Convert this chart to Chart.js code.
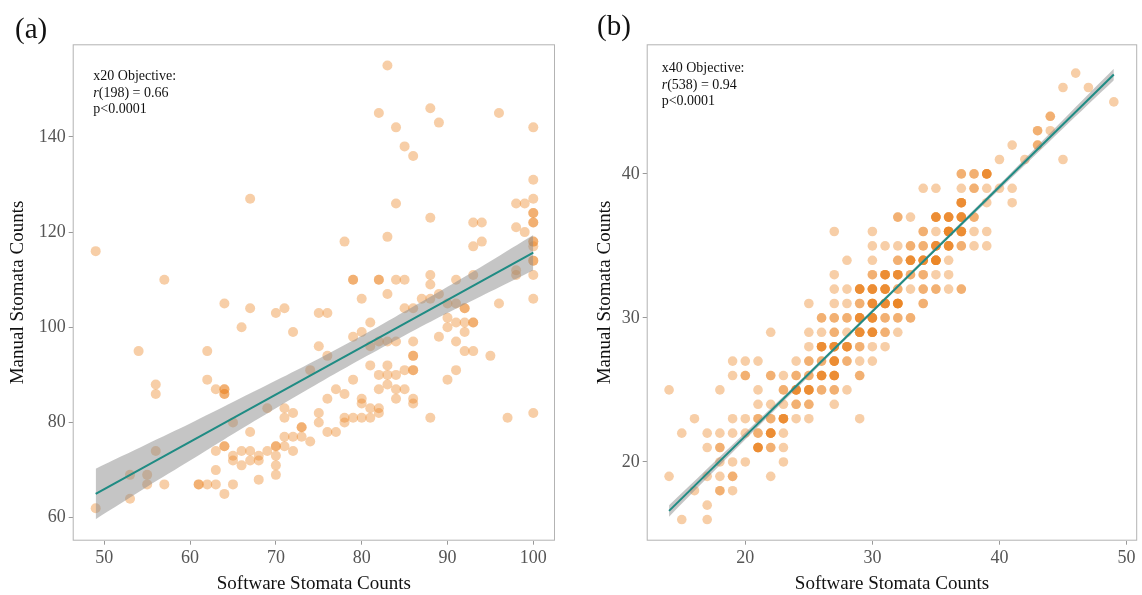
<!DOCTYPE html>
<html>
<head>
<meta charset="utf-8">
<script src="https://cdn.jsdelivr.net/npm/chart.js@4.4.0/dist/chart.umd.min.js"></script>
<style>
  html, body { margin: 0; padding: 0; background: #fff; }
  #wrap { position: relative; width: 1142px; height: 595px; overflow: hidden; }
  canvas { position: absolute; top: 0; }
  #chartA { left: 0; }
  #chartB { left: 575px; }
</style>
</head>
<body>
<div id="wrap">
  <canvas id="chartA" width="575" height="595"></canvas>
  <canvas id="chartB" width="567" height="595"></canvas>
</div>
<script>
// (a) x20 objective: [software count, manual count, how many points sit on that spot]
const x20Points = [
  [49,116],[67,127],[57,110],[64,105],
  [83,155],[82,145],[88,146],[89,143],[96,145],[100,142],[84,142],[85,138],[86,136],
  [100,131],[100,127],[98,126],[99,126],[84,126],[100,124,2],[88,123],[93,122],[94,122],
  [100,122,2],[98,121],[99,120],[78,118],[83,119],[93,117],[94,118],[100,118,2],[100,117],
  [100,114,2],[98,112],[98,111],[100,111],[79,110,2],[82,110,2],[84,110],[85,110],
  [88,111],[88,109],[91,110],[93,111],[83,107],[80,106],[100,106],
  [49,62],[53,64],[53,69],[55,69],[55,67],[56,74],[57,67],[54,95],[56,88],[56,86],
  [67,104],[70,103],[71,104],[66,100],[72,99],[62,95],[62,89],[63,87],[64,87,2],[64,86,2],
  [69,83],[65,80],[67,78],[71,83],[71,81],[72,82],[73,79,2],[71,77],[72,77],[73,77],[74,76],
  [70,75,2],[71,75],[64,75,2],[63,74],[65,73],[65,72],[66,74],[67,74],[66,71],[67,72],
  [68,73],[68,72],[69,74],[70,73],[70,71],[70,69],[72,74],[68,68],[61,67,2],[62,67],[63,67],
  [63,70],[65,67],[64,65],
  [75,103],[76,103],[81,101],[85,104],[86,104],[87,106],[88,106],[89,107],[90,105],[91,105],
  [92,104,2],[90,102],[90,100],[91,101],[92,101],[93,101,2],[92,99],[91,97],[89,98],[92,95],
  [93,95],[95,94],[96,105],[90,89],[91,91],[88,81],[97,81],[100,82],[86,94,2],[86,91,2],
  [86,97],[85,91],[84,90],[83,90],[82,90],[83,92],[81,92],[84,97],[83,97],[82,97],[81,96],
  [79,98],[80,99],[75,96],[76,94],[74,91],[79,89],[82,87],[83,88],[84,87],[85,87],[77,87],
  [78,86],[76,85],[80,85],[80,84],[81,83],[82,83],[82,82],[84,85],[86,85],[86,84],[79,81],
  [80,81],[81,81],[78,81],[78,80],[75,82],[75,80],[76,78],[77,78]
];
const x20FitX = [49, 100];
const x20FitY = [65.0, 115.7];
const x20BandX = [49, 55, 60, 65, 70, 75, 80, 85, 90, 95, 100];
const x20BandLow = [59.7, 66.5, 72.0, 77.6, 83.0, 88.3, 93.4, 98.3, 103.0, 107.5, 112.0];
const x20BandHigh = [70.3, 75.5, 79.8, 84.3, 88.8, 93.4, 98.2, 103.3, 108.5, 113.9, 119.4];
const x20TicksX = [50, 60, 70, 80, 90, 100];
const x20TicksY = [60, 80, 100, 120, 140];

// (b) x40 objective
const x40Points = [
  [46,47],[45,46],[47,46],[49,45],[44,44,2],[43,43,2],[44,43],[41,42],[43,42,2],[40,41],[42,41],[45,41],
  [37,40,2],[38,40,2],[39,40,5],
  [34,39],[35,39],[37,39],[38,39,2],[39,39],[40,39],[41,39],
  [37,38,5],[39,38],[41,38],
  [32,37,2],[33,37],[35,37,5],[36,37,5],[37,37,5],[38,37,2],
  [27,36],[30,36],[34,36,2],[35,36],[36,36,7],[37,36,5],[38,36],[39,36],
  [30,35],[31,35],[32,35],[33,35,2],[34,35,2],[35,35,5],[36,35,5],[37,35,2],[38,35],[39,35],
  [28,34],[30,34],[32,34,2],[33,34,5],[34,34,5],[35,34,7],[36,34],
  [27,33],[30,33,2],[31,33,5],[32,33,5],[33,33,2],[34,33,2],[35,33],[36,33],
  [27,32],[28,32],[29,32,5],[30,32,5],[31,32,5],[32,32,2],[33,32],[34,32,2],[35,32,2],[36,32],[37,32,2],
  [25,31],[27,31],[28,31],[29,31,2],[30,31,5],[31,31,5],[32,31,7],[34,31,2],
  [26,30,2],[27,30,2],[28,30,2],[29,30,5],[30,30,5],[31,30,2],[32,30,2],[33,30,2],
  [22,29],[25,29],[26,29],[27,29,2],[28,29],[29,29,5],[30,29,5],[31,29,2],[32,29],
  [25,28],[26,28,5],[27,28,5],[28,28,5],[29,28,2],[30,28],[31,28],
  [19,27],[20,27],[21,27],[24,27],[25,27,2],[26,27,2],[27,27,5],[28,27,2],[29,27],[30,27],
  [19,26],[20,26,2],[22,26,2],[23,26],[24,26,2],[25,26,2],[26,26,5],[27,26,5],[29,26,2],
  [14,25],[18,25],[21,25],[23,25,2],[24,25,5],[25,25,5],[26,25,2],[27,25,2],[28,25],
  [21,24],[22,24],[23,24],[24,24,2],[25,24,2],[27,24],
  [16,23],[19,23],[20,23],[21,23,2],[22,23,2],[23,23,5],[24,23],[25,23],[29,23],
  [15,22],[17,22],[18,22],[19,22],[20,22],[21,22,2],[22,22,5],[23,22],
  [17,21],[18,21,2],[21,21,5],[22,21,2],[23,21],
  [18,20],[19,20],[20,20],[23,20],
  [14,19],[17,19],[18,19],[19,19,2],[22,19],
  [16,18],[18,18,2],[19,18],
  [17,17],
  [15,16],[17,16]
];
const x40FitX = [14, 49];
const x40FitY = [16.6, 46.9];
const x40BandX = [14, 20, 25, 30, 35, 40, 45, 49];
const x40BandLow = [16.2, 21.55, 25.95, 30.34, 34.68, 38.92, 43.15, 46.5];
const x40BandHigh = [17.0, 22.05, 26.25, 30.58, 34.92, 39.28, 43.75, 47.3];
const x40TicksX = [20, 30, 40, 50];
const x40TicksY = [20, 30, 40];

const SERIF = "'Liberation Serif', 'DejaVu Serif', serif";
const DOT = 'rgba(236,133,34,0.4)';
const BAND = 'rgba(140,140,140,0.5)';
const TEAL = '#1f8c84';

function expand(points) {
  const out = [];
  points.forEach(([x, y, n = 1]) => {
    for (let i = 0; i < n; i++) out.push({ x, y });
  });
  return out;
}

function pairs(xs, ys) {
  return xs.map((x, i) => ({ x, y: ys[i] }));
}

// frame + panel letter + stats text
const decor = {
  id: 'decor',
  afterDatasetsDraw(chart, args, opts) {
    const { ctx, chartArea: a } = chart;
    ctx.save();
    ctx.strokeStyle = '#b3b3b3';
    ctx.lineWidth = 1;
    ctx.strokeRect(a.left + 0.5, a.top + 0.5, a.right - a.left - 1, a.bottom - a.top - 1);

    ctx.fillStyle = '#111';
    ctx.textBaseline = 'alphabetic';
    ctx.font = '29px ' + SERIF;
    ctx.fillText(opts.letter, opts.letterX, opts.letterY);

    ctx.font = '14px ' + SERIF;
    ctx.fillText(opts.lines[0], opts.noteX, opts.noteY);
    ctx.font = 'italic 14px ' + SERIF;
    ctx.fillText('r', opts.noteX, opts.noteY + 16.5);
    const w = ctx.measureText('r').width;
    ctx.font = '14px ' + SERIF;
    ctx.fillText(opts.lines[1], opts.noteX + w, opts.noteY + 16.5);
    ctx.fillText(opts.lines[2], opts.noteX, opts.noteY + 33);
    ctx.restore();
  }
};

function makePanel(id, p) {
  return new Chart(document.getElementById(id), {
    type: 'scatter',
    data: {
      datasets: [
        { data: pairs(p.fitX, p.fitY), showLine: true, borderColor: TEAL, borderWidth: 2,
          pointRadius: 0, order: 0 },
        { data: pairs(p.bandX, p.bandHigh), showLine: true, borderColor: 'transparent', borderWidth: 0,
          pointRadius: 0, backgroundColor: BAND, fill: 2, tension: 0.3, order: 1 },
        { data: pairs(p.bandX, p.bandLow), showLine: true, borderColor: 'transparent', borderWidth: 0,
          pointRadius: 0, fill: false, tension: 0.3, order: 1 },
        { data: expand(p.points), pointRadius: p.radius, backgroundColor: DOT, borderWidth: 0,
          order: 2 }
      ]
    },
    options: {
      responsive: false,
      animation: false,
      events: [],
      layout: { padding: { left: 0, right: p.padRight, top: 44.3, bottom: 0 } },
      plugins: {
        legend: { display: false },
        tooltip: { enabled: false },
        decor: p.decor
      },
      scales: {
        x: {
          type: 'linear', min: p.xMin, max: p.xMax,
          afterBuildTicks: s => { s.ticks = p.ticksX.map(v => ({ value: v })); },
          afterFit: s => { s.height = 54.3; },
          border: { display: false },
          grid: { drawOnChartArea: false, drawTicks: true, tickLength: 4, color: '#999' },
          ticks: { autoSkip: false, maxRotation: 0, padding: 3, color: '#555',
                   font: { family: SERIF, size: 18 } },
          title: { display: true, text: 'Software Stomata Counts', color: '#111',
                   font: { family: SERIF, size: 19 }, padding: { top: 0, bottom: 0 } }
        },
        y: {
          type: 'linear', min: p.yMin, max: p.yMax,
          afterBuildTicks: s => { s.ticks = p.ticksY.map(v => ({ value: v })); },
          afterFit: s => { s.width = p.yWidth; },
          border: { display: false },
          grid: { drawOnChartArea: false, drawTicks: true, tickLength: 4, color: '#999' },
          ticks: { autoSkip: false, padding: 3, color: '#555',
                   font: { family: SERIF, size: 18 } },
          title: { display: true, text: 'Manual Stomata Counts', color: '#111',
                   font: { family: SERIF, size: 19 }, padding: { top: p.yTitlePad, bottom: 0 } }
        }
      }
    },
    plugins: [decor]
  });
}

makePanel('chartA', {
  points: x20Points, fitX: x20FitX, fitY: x20FitY,
  bandX: x20BandX, bandLow: x20BandLow, bandHigh: x20BandHigh,
  ticksX: x20TicksX, ticksY: x20TicksY,
  xMin: 46.32, xMax: 102.53, yMin: 55.17, yMax: 159.45,
  yWidth: 72.7, padRight: 20, yTitlePad: 6.6, radius: 5,
  decor: { letter: '(a)', letterX: 15, letterY: 37.5,
           lines: ['x20 Objective:', '(198) = 0.66', 'p<0.0001'], noteX: 93.3, noteY: 80 }
});

makePanel('chartB', {
  points: x40Points, fitX: x40FitX, fitY: x40FitY,
  bandX: x40BandX, bandLow: x40BandLow, bandHigh: x40BandHigh,
  ticksX: x40TicksX, ticksY: x40TicksY,
  xMin: 12.24, xMax: 50.84, yMin: 14.53, yMax: 49.0,
  yWidth: 71.7, padRight: 1.3, yTitlePad: 18.6, radius: 4.8,
  decor: { letter: '(b)', letterX: 22, letterY: 34.5,
           lines: ['x40 Objective:', '(538) = 0.94', 'p<0.0001'], noteX: 86.7, noteY: 72 }
});
</script>
</body>
</html>
